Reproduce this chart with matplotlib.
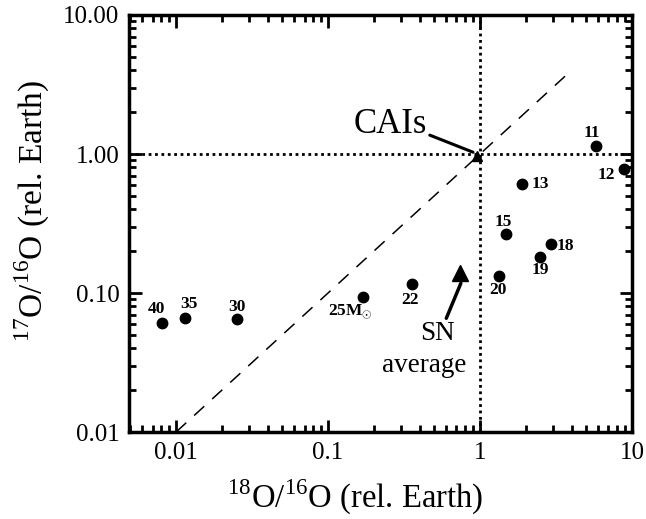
import numpy as np
import matplotlib.pyplot as plt
from matplotlib.ticker import FixedLocator, FixedFormatter, LogLocator, NullFormatter

plt.rcParams['font.family'] = ['Liberation Serif', 'DejaVu Serif']
plt.rcParams['mathtext.fontset'] = 'custom'
plt.rcParams['mathtext.rm'] = 'Liberation Serif'
plt.rcParams['mathtext.bf'] = 'Liberation Serif:bold'

# supernova yields, progenitor mass in solar masses
masses = ['40', '35', '30', '25M$_{\\odot}$', '22', '20', '19', '18', '15', '13', '12', '11']
o18 = [0.0081, 0.0114, 0.025, 0.169, 0.356, 1.34, 2.50, 2.94, 1.49, 1.89, 8.9, 5.78]
o17 = [0.061, 0.066, 0.065, 0.094, 0.117, 0.133, 0.181, 0.224, 0.265, 0.605, 0.78, 1.15]
# label offsets (points)
lab_dx = [-4, 3, 0, -9, -1, -1, 0, 10, -2, 13, -13, -3]
lab_dy = [10, 10, 9, -10, -12, -10, -9, -1, 9, 0, -4, 9]

sn_avg = (0.74, 0.14)
cais = (0.95, 0.97)
line_ends = [0.01, 4.0]

fig = plt.figure(figsize=(6.46, 5.19), dpi=100)
ax = fig.add_axes([0.1997, 0.1676, 0.7786, 0.8035])
ax.set_xscale('log')
ax.set_yscale('log')
ax.set_xlim(0.0049, 10)
ax.set_ylim(0.01, 10)

ax.plot(line_ends, line_ends, color='black', lw=1.1, dashes=(9, 7))
ax.axvline(1, color='black', lw=2, ls=(0, (1, 1.3)))
ax.axhline(1, color='black', lw=2, ls=(0, (1, 1.3)))

ax.plot(o18, o17, 'o', color='black', ms=7.5, clip_on=False, zorder=5)
for m, x, y, dx, dy in zip(masses, o18, o17, lab_dx, lab_dy):
    ax.annotate(m, (x, y), xytext=(dx, dy), textcoords='offset points',
                ha='center', va='center', fontsize=12.5, fontweight='bold')

ax.plot(*sn_avg, '^', color='black', ms=11, zorder=5)
ax.plot(*cais, '^', color='black', ms=7, zorder=5)

ax.annotate('CAIs', xy=(0.9, 1.03), xytext=(0.257, 1.64), fontsize=25,
            ha='center', va='center',
            arrowprops=dict(arrowstyle='-', color='black', lw=2.2, shrinkA=0, shrinkB=0,
                            relpos=(1.0, 0.2)))
ax.annotate('', xy=(0.748, 0.1175), xytext=(0.60, 0.0658),
            arrowprops=dict(arrowstyle='-', color='black', lw=2.5, shrinkA=0, shrinkB=0))
ax.text(0.527, 0.0515, 'SN', fontsize=19.5, ha='center', va='center')
ax.text(0.426, 0.0299, 'average', fontsize=19.5, ha='center', va='center')

ax.xaxis.set_major_locator(FixedLocator([0.01, 0.1, 1, 10]))
ax.xaxis.set_major_formatter(FixedFormatter(['0.01', '0.1', '1', '10']))
ax.yaxis.set_major_locator(FixedLocator([0.01, 0.1, 1, 10]))
ax.yaxis.set_major_formatter(FixedFormatter(['0.01', '0.10', '1.00', '10.00']))
for a in (ax.xaxis, ax.yaxis):
    a.set_minor_locator(LogLocator(base=10, subs=np.arange(2, 10)))
    a.set_minor_formatter(NullFormatter())
ax.tick_params(which='both', direction='in', top=True, right=True, width=2, labelsize=18, pad=7)
ax.tick_params(which='major', length=9)
ax.tick_params(which='minor', length=5)
for s in ax.spines.values():
    s.set_linewidth(2.5)

ax.set_xlabel('$^{18}$O/$^{16}$O (rel. Earth)', fontsize=23.5)
ax.set_ylabel('$^{17}$O/$^{16}$O (rel. Earth)', fontsize=24)
ax.xaxis.set_label_coords(0.449, -0.11)
ax.yaxis.set_label_coords(-0.153, 0.53)

fig.savefig('out.png', dpi=100)
